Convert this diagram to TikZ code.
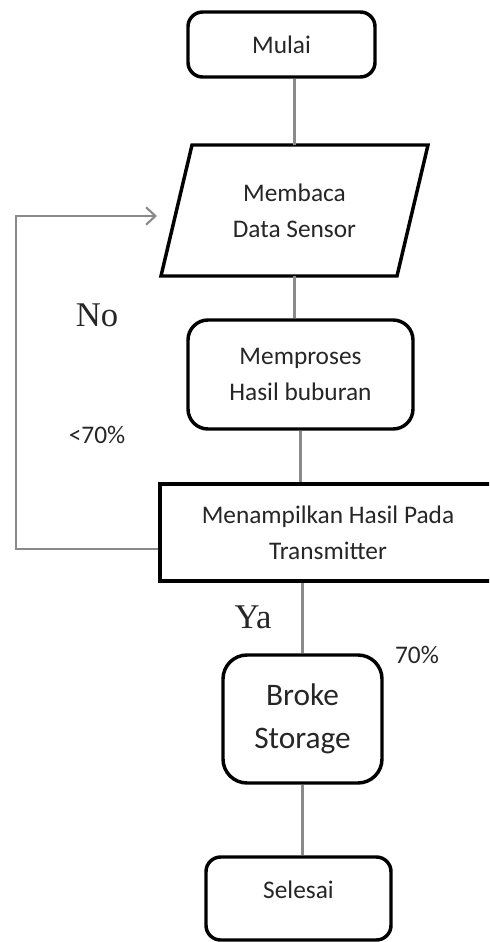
\documentclass[tikz,border=0pt]{standalone}
\usepackage{fontspec}
\setmainfont{Carlito}
\newfontfamily\serifA{Liberation Serif}
\usetikzlibrary{arrows.meta,calc}
\definecolor{connc}{HTML}{8A8A8A}
\definecolor{txt}{HTML}{262626}
\begin{document}
\begin{tikzpicture}[x=0.75pt,y=-0.75pt,
  box/.style={draw=black, line width=2.6pt, fill=white, text=txt, align=center,
    font=\fontsize{19}{27}\selectfont, inner sep=0pt},
  plain/.style={text=txt, align=center, font=\fontsize{19}{27}\selectfont, inner sep=0pt},
  conn/.style={draw=connc, line width=1.6pt},
  lbl/.style={text=txt, inner sep=0pt, font=\fontsize{19}{19}\selectfont},
  yn/.style={text=txt, inner sep=0pt, font=\serifA\fontsize{26}{26}\selectfont}
]
\useasboundingbox (0,0) rectangle (489,942);
\clip (0,0) rectangle (489,942);

% nodes
\node[box, rounded corners=11pt, minimum width=140.25pt, minimum height=48.75pt] (mulai) at (281.5,44.5) {Mulai};

\draw[line width=2.6pt, line join=miter, fill=white] (192,145) -- (428,145) -- (397,276) -- (161,276) -- cycle;
\node[plain, minimum width=177pt, minimum height=98.25pt] (para) at (294.5,210.5) {Membaca\\Data Sensor};

\node[box, rounded corners=15pt, minimum width=168.75pt, minimum height=81.75pt] (memp) at (300.5,374.5) {Memproses\\Hasil buburan};

\node[box, minimum width=252pt, minimum height=72.75pt] (menam) at (328,532.5) {Menampilkan Hasil Pada\\Transmitter};

\node[box, rounded corners=18pt, minimum width=119.25pt, minimum height=96pt,
  font=\fontsize{23.5}{32}\selectfont] (broke) at (302.5,719) {Broke\\Storage};

\node[box, rounded corners=11pt, minimum width=138.75pt, minimum height=62.25pt] (selesai) at (298.5,898.5) {};
\node[plain] (selesaitxt) at ([yshift=6.4pt]selesai.center) {Selesai};

% connectors
\draw[conn] (para.north |- mulai.south) -- (para.north);
\draw[conn] (para.south) -- (para.south |- memp.north);
\draw[conn] (memp.south) -- (memp.south |- menam.north);
\draw[conn] (broke.north |- menam.south) -- (broke.north);
\draw[conn] (broke.south) -- (broke.south |- selesai.north);

\coordinate (lb) at (16,549);
\coordinate (lt) at (16,216);
\coordinate (tipend) at (157,216);
\draw[conn, -{Straight Barb[length=7pt,width=13pt,line width=1.6pt]}]
  (menam.west |- lb) -- (lb) -- (lt) -- (tipend);

% labels
\node[yn] (no) at (97,315) {No};
\node[lbl] (lt70) at (97,435) {<70\%};
\node[yn] (ya) at (253,617) {Ya};
\node[lbl] (p70) at (417,655) {70\%};
\end{tikzpicture}
\end{document}
